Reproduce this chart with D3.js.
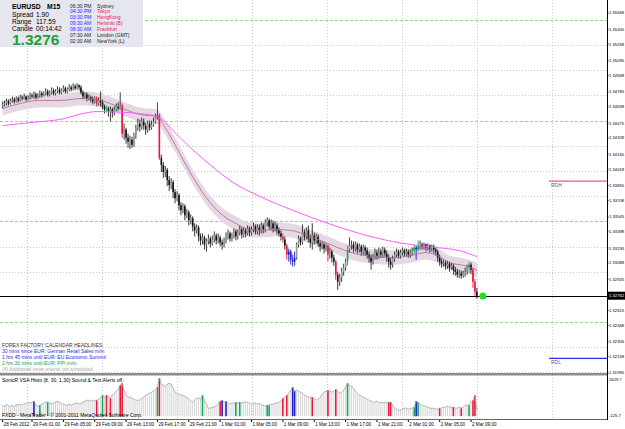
<!DOCTYPE html>
<html>
<head>
<meta charset="utf-8">
<script src="https://cdn.jsdelivr.net/npm/d3@7"></script>
<style>
  body { margin: 0; background: #fff; }
  svg { display: block; font-family: "Liberation Sans", Arial, sans-serif; }
</style>
</head>
<body>
<div class="canvas"></div>
<script>
// ---- data ----
const symbol = "EURUSD", timeframe = "M15";
const spread = "1.90", range = "117.59", candleLeft = "00:14:42", bidText = "1.3276";
const bidPrice = 1.3276;
const rdh = 1.3390, rdl = 1.3214;

const opens = [1.3464,1.3466,1.3467,1.3469,1.3467,1.3470,1.3471,1.3469,1.3472,1.3470,
1.3473,1.3472,1.3474,1.3471,1.3473,1.3475,1.3474,1.3476,1.3473,1.3475,
1.3477,1.3475,1.3477,1.3479,1.3476,1.3478,1.3480,1.3477,1.3479,1.3481,
1.3478,1.3480,1.3482,1.3479,1.3481,1.3483,1.3481,1.3484,1.3482,1.3485,
1.3483,1.3478,1.3474,1.3476,1.3472,1.3473,1.3471,1.3469,1.3472,1.3467,
1.3470,1.3468,1.3464,1.3461,1.3462,1.3459,1.3461,1.3458,1.3461,1.3464,
1.3462,1.3465,1.3437,1.3441,1.3433,1.3429,1.3431,1.3426,1.3435,1.3443,
1.3447,1.3444,1.3449,1.3445,1.3441,1.3447,1.3443,1.3446,1.3449,1.3453,
1.3455,1.3413,1.3406,1.3399,1.3401,1.3391,1.3386,1.3389,1.3379,1.3373,
1.3376,1.3366,1.3361,1.3365,1.3356,1.3359,1.3351,1.3353,1.3345,1.3341,
1.3344,1.3335,1.3331,1.3334,1.3327,1.3330,1.3333,1.3328,1.3332,1.3336,
1.3331,1.3334,1.3329,1.3327,1.3331,1.3335,1.3338,1.3333,1.3336,1.3340,
1.3335,1.3339,1.3342,1.3337,1.3341,1.3338,1.3343,1.3339,1.3342,1.3345,
1.3340,1.3344,1.3341,1.3346,1.3342,1.3349,1.3351,1.3345,1.3348,1.3343,
1.3346,1.3341,1.3338,1.3335,1.3332,1.3326,1.3317,1.3320,1.3312,1.3310,
1.3314,1.3327,1.3333,1.3329,1.3339,1.3335,1.3341,1.3333,1.3329,1.3336,
1.3331,1.3335,1.3328,1.3325,1.3327,1.3323,1.3326,1.3317,1.3320,1.3314,
1.3310,1.3297,1.3290,1.3294,1.3300,1.3304,1.3310,1.3322,1.3326,1.3327,
1.3323,1.3327,1.3322,1.3325,1.3320,1.3324,1.3321,1.3317,1.3314,1.3310,
1.3315,1.3319,1.3316,1.3320,1.3317,1.3322,1.3318,1.3314,1.3310,1.3307,
1.3313,1.3317,1.3320,1.3316,1.3319,1.3321,1.3318,1.3320,1.3317,1.3319,
1.3321,1.3324,1.3322,1.3326,1.3327,1.3325,1.3327,1.3324,1.3326,1.3323,
1.3325,1.3322,1.3320,1.3314,1.3310,1.3308,1.3309,1.3306,1.3308,1.3304,
1.3306,1.3302,1.3300,1.3297,1.3299,1.3296,1.3298,1.3300,1.3304,1.3307,
1.3302,1.3290,1.3280];

const highs = [1.3469,1.3470,1.3472,1.3471,1.3472,1.3474,1.3473,1.3474,1.3474,1.3476,
1.3475,1.3477,1.3475,1.3475,1.3478,1.3477,1.3479,1.3478,1.3477,1.3480,
1.3479,1.3479,1.3482,1.3481,1.3480,1.3483,1.3482,1.3481,1.3484,1.3483,
1.3482,1.3485,1.3484,1.3483,1.3486,1.3485,1.3487,1.3486,1.3487,1.3486,
1.3485,1.3480,1.3478,1.3478,1.3476,1.3475,1.3474,1.3474,1.3474,1.3473,
1.3479,1.3471,1.3466,1.3465,1.3464,1.3464,1.3463,1.3464,1.3467,1.3468,
1.3478,1.3467,1.3447,1.3443,1.3437,1.3435,1.3434,1.3438,1.3446,1.3452,
1.3451,1.3453,1.3452,1.3448,1.3450,1.3450,1.3450,1.3453,1.3457,1.3468,
1.3457,1.3416,1.3409,1.3405,1.3403,1.3395,1.3393,1.3391,1.3382,1.3380,
1.3378,1.3369,1.3368,1.3367,1.3362,1.3361,1.3357,1.3355,1.3348,1.3347,
1.3346,1.3338,1.3338,1.3336,1.3333,1.3337,1.3335,1.3336,1.3340,1.3338,
1.3338,1.3336,1.3332,1.3334,1.3339,1.3342,1.3340,1.3339,1.3343,1.3342,
1.3342,1.3346,1.3344,1.3344,1.3343,1.3346,1.3345,1.3345,1.3349,1.3347,
1.3347,1.3347,1.3349,1.3348,1.3352,1.3354,1.3353,1.3352,1.3351,1.3350,
1.3348,1.3344,1.3341,1.3338,1.3335,1.3328,1.3323,1.3322,1.3317,1.3320,
1.3329,1.3336,1.3335,1.3347,1.3342,1.3344,1.3346,1.3337,1.3348,1.3339,
1.3338,1.3337,1.3331,1.3330,1.3329,1.3328,1.3327,1.3324,1.3322,1.3317,
1.3312,1.3300,1.3298,1.3304,1.3308,1.3313,1.3326,1.3334,1.3331,1.3330,
1.3330,1.3329,1.3328,1.3327,1.3327,1.3326,1.3324,1.3320,1.3317,1.3318,
1.3323,1.3322,1.3324,1.3323,1.3325,1.3324,1.3321,1.3317,1.3314,1.3316,
1.3320,1.3323,1.3322,1.3322,1.3324,1.3323,1.3323,1.3322,1.3322,1.3324,
1.3327,1.3326,1.3331,1.3331,1.3329,1.3329,1.3328,1.3328,1.3327,1.3327,
1.3327,1.3325,1.3322,1.3317,1.3313,1.3312,1.3311,1.3311,1.3310,1.3309,
1.3308,1.3305,1.3303,1.3302,1.3301,1.3301,1.3304,1.3307,1.3310,1.3309,
1.3304,1.3293,1.3284];

const lows = [1.3462,1.3464,1.3465,1.3465,1.3466,1.3468,1.3467,1.3468,1.3468,1.3469,
1.3470,1.3471,1.3469,1.3470,1.3471,1.3472,1.3472,1.3471,1.3472,1.3473,
1.3473,1.3474,1.3475,1.3474,1.3474,1.3476,1.3475,1.3475,1.3477,1.3476,
1.3476,1.3478,1.3477,1.3477,1.3479,1.3479,1.3480,1.3480,1.3481,1.3480,
1.3476,1.3471,1.3472,1.3469,1.3470,1.3468,1.3466,1.3467,1.3464,1.3465,
1.3464,1.3461,1.3457,1.3458,1.3454,1.3449,1.3453,1.3455,1.3459,1.3460,
1.3461,1.3433,1.3431,1.3427,1.3423,1.3422,1.3423,1.3424,1.3432,1.3440,
1.3439,1.3441,1.3441,1.3436,1.3438,1.3440,1.3441,1.3444,1.3447,1.3451,
1.3411,1.3399,1.3393,1.3394,1.3385,1.3380,1.3382,1.3373,1.3368,1.3370,
1.3361,1.3356,1.3358,1.3351,1.3353,1.3346,1.3347,1.3340,1.3335,1.3338,
1.3330,1.3326,1.3327,1.3322,1.3320,1.3327,1.3324,1.3326,1.3329,1.3327,
1.3328,1.3325,1.3322,1.3324,1.3328,1.3332,1.3330,1.3330,1.3333,1.3331,
1.3332,1.3336,1.3333,1.3334,1.3334,1.3336,1.3335,1.3336,1.3339,1.3337,
1.3337,1.3336,1.3338,1.3338,1.3339,1.3345,1.3342,1.3341,1.3339,1.3340,
1.3337,1.3335,1.3331,1.3329,1.3322,1.3312,1.3310,1.3307,1.3305,1.3306,
1.3312,1.3324,1.3326,1.3327,1.3331,1.3332,1.3329,1.3324,1.3322,1.3327,
1.3328,1.3325,1.3320,1.3322,1.3318,1.3320,1.3310,1.3313,1.3309,1.3306,
1.3292,1.3282,1.3286,1.3290,1.3296,1.3301,1.3306,1.3319,1.3322,1.3319,
1.3320,1.3318,1.3319,1.3316,1.3317,1.3316,1.3313,1.3309,1.3302,1.3307,
1.3312,1.3312,1.3313,1.3314,1.3314,1.3315,1.3310,1.3304,1.3302,1.3304,
1.3310,1.3314,1.3313,1.3313,1.3316,1.3315,1.3315,1.3314,1.3314,1.3316,
1.3318,1.3312,1.3320,1.3322,1.3322,1.3322,1.3320,1.3321,1.3319,1.3320,
1.3318,1.3316,1.3310,1.3306,1.3304,1.3305,1.3302,1.3303,1.3300,1.3302,
1.3297,1.3296,1.3294,1.3294,1.3293,1.3294,1.3295,1.3297,1.3299,1.3298,
1.3284,1.3276,1.3273];

const closes = [1.3466,1.3467,1.3469,1.3467,1.3470,1.3471,1.3469,1.3472,1.3470,1.3473,
1.3472,1.3474,1.3471,1.3473,1.3475,1.3474,1.3476,1.3473,1.3475,1.3477,
1.3475,1.3477,1.3479,1.3476,1.3478,1.3480,1.3477,1.3479,1.3481,1.3478,
1.3480,1.3482,1.3479,1.3481,1.3483,1.3481,1.3484,1.3482,1.3485,1.3483,
1.3478,1.3474,1.3476,1.3472,1.3473,1.3471,1.3469,1.3472,1.3467,1.3470,
1.3468,1.3464,1.3461,1.3462,1.3459,1.3461,1.3458,1.3461,1.3464,1.3462,
1.3465,1.3437,1.3441,1.3433,1.3429,1.3431,1.3426,1.3435,1.3443,1.3447,
1.3444,1.3449,1.3445,1.3441,1.3447,1.3443,1.3446,1.3449,1.3453,1.3455,
1.3413,1.3406,1.3399,1.3401,1.3391,1.3386,1.3389,1.3379,1.3373,1.3376,
1.3366,1.3361,1.3365,1.3356,1.3359,1.3351,1.3353,1.3345,1.3341,1.3344,
1.3335,1.3331,1.3334,1.3327,1.3330,1.3333,1.3328,1.3332,1.3336,1.3331,
1.3334,1.3329,1.3327,1.3331,1.3335,1.3338,1.3333,1.3336,1.3340,1.3335,
1.3339,1.3342,1.3337,1.3341,1.3338,1.3343,1.3339,1.3342,1.3345,1.3340,
1.3344,1.3341,1.3346,1.3342,1.3349,1.3351,1.3345,1.3348,1.3343,1.3346,
1.3341,1.3338,1.3335,1.3332,1.3326,1.3317,1.3320,1.3312,1.3310,1.3314,
1.3327,1.3333,1.3329,1.3339,1.3335,1.3341,1.3333,1.3329,1.3336,1.3331,
1.3335,1.3328,1.3325,1.3327,1.3323,1.3326,1.3317,1.3320,1.3314,1.3310,
1.3297,1.3290,1.3294,1.3300,1.3304,1.3310,1.3322,1.3326,1.3327,1.3323,
1.3327,1.3322,1.3325,1.3320,1.3324,1.3321,1.3317,1.3314,1.3310,1.3315,
1.3319,1.3316,1.3320,1.3317,1.3322,1.3318,1.3314,1.3310,1.3307,1.3313,
1.3317,1.3320,1.3316,1.3319,1.3321,1.3318,1.3320,1.3317,1.3319,1.3321,
1.3324,1.3322,1.3326,1.3327,1.3325,1.3327,1.3324,1.3326,1.3323,1.3325,
1.3322,1.3320,1.3314,1.3310,1.3308,1.3309,1.3306,1.3308,1.3304,1.3306,
1.3302,1.3300,1.3297,1.3299,1.3296,1.3298,1.3300,1.3304,1.3307,1.3302,
1.3290,1.3280,1.3276];

const volumes = [758,620,827,689,689,758,620,827,758,827,
758,896,827,965,896,965,1034,758,689,758,
827,896,965,965,896,827,896,965,1034,965,
896,827,758,758,827,758,827,896,896,827,
896,965,1034,1102,1102,1034,1102,1034,1102,1171,
1240,1447,1309,1447,1378,1240,1447,1585,1723,1860,
2136,2274,1791,1447,1309,1309,1240,1171,1102,1102,
1102,1240,1309,1447,1516,1585,1654,1723,1860,1998,
2630,2205,2136,2067,2205,2274,2205,1929,1654,1585,
1516,1447,1447,1378,1309,1171,1034,965,1102,1240,
1240,1171,1447,1102,827,551,551,620,620,689,
827,1034,1102,965,1034,896,827,896,896,965,
896,965,896,965,965,965,896,827,896,896,
827,896,758,758,689,758,758,827,827,896,
896,965,1034,1240,1309,1447,1585,1791,1998,1723,
1791,1723,1654,1585,1447,1378,1309,1309,1309,1240,
1102,1171,1309,1516,1654,1723,1791,1723,1654,1723,
1860,1723,1585,1654,1791,1998,2274,2136,2067,1929,
1723,1585,1447,1378,1309,1240,1171,1102,1034,965,
965,1034,896,965,896,965,896,965,965,758,
551,482,413,413,482,551,551,482,551,551,
620,1034,965,827,758,689,689,620,551,551,
551,482,482,551,551,620,620,689,620,620,
620,551,551,620,551,620,758,758,758,965,
1102,1447,413];

// VSA signal bars (bar index)
const candleRed = [48, 61, 80, 143, 145, 166, 170, 240, 241];
const candleBlue = [79, 146, 147, 148, 149, 211];
const candleGreen = [53, 176, 210, 212, 238];
const volRed = [48, 53, 55, 60, 61, 80, 111, 143, 145, 158, 166, 170, 197, 198, 223, 230, 234, 240, 241];
const volBlue = [16, 112, 114, 148, 149, 211];
const volGreen = [19, 23, 51, 79, 102, 119, 121, 135, 136, 176, 210, 212, 238];

// moving averages [bar, price]
const maFast = [[0,1.3462],[9,1.3467],[19,1.3470],[29,1.3470],[41,1.3472],[50,1.3470],[60,1.3463],
[70,1.3456],[79,1.3454],[83,1.3443],[88,1.3426],[93,1.3408],[98,1.3391],[103,1.3376],[108,1.3364],
[113,1.3355],[119,1.3348],[124,1.3343],[131,1.3341],[139,1.3342],[147,1.3341],[157,1.3335],
[166,1.3328],[175,1.3321],[182,1.3317],[199,1.3314],[208,1.3316],[216,1.3319],[223,1.3315],
[228,1.3309],[236,1.3306],[242,1.3302]];
const bandHalf = 0.0007;
const maSlow = [[0,1.3445],[9,1.3447],[19,1.3449],[29,1.3451],[41,1.3457],[48,1.3459],[64,1.3458],
[70,1.3457],[79,1.3454],[80,1.3453],[88,1.3438],[97,1.3421],[106,1.3406],[118,1.3388],[131,1.3375],
[148,1.3361],[166,1.3348],[182,1.3338],[199,1.3330],[216,1.3325],[233,1.3321],[242,1.3315]];

const greenLevels = [1.355, 1.345, 1.335, 1.325];
const gridLevels = [1.3525, 1.35, 1.3475, 1.3425, 1.34, 1.3375, 1.3325, 1.33, 1.3225, 1.32];

const priceLabels = ["1.35568","1.35405","1.35258","1.35095","1.34948","1.34785","1.34638","1.34475",
"1.34328","1.34165","1.34018","1.33855","1.33708","1.33545","1.33398","1.33235","1.33088","1.32925",
"1.32615","1.32468","1.32305","1.32158","1.31995"];
const bidLabel = "1.32762";

const timeLabels = ["28 Feb 2012","29 Feb 01:00","29 Feb 05:00","29 Feb 09:00","29 Feb 13:00","29 Feb 17:00",
"29 Feb 21:00","1 Mar 01:00","1 Mar 05:00","1 Mar 09:00","1 Mar 13:00","1 Mar 17:00","1 Mar 21:00",
"2 Mar 01:00","2 Mar 05:00","2 Mar 09:00"];
const timeLabelBars = [0,15,31,47,63,79,95,111,127,143,159,175,191,207,223,239];

const sessionTimes = ["06:30 PM","04:30 PM","03:30 PM","09:30 AM","08:30 AM","07:30 AM","02:30 AM"];
const sessionCities = ["Sydney","Tokyo","HongKong","Helsinki (B)","Frankfurt","London (GMT)","NewYork (L)"];
const sessionOpen = [false, true, true, true, true, false, false];

const newsLines = [
  ["FOREX FACTORY CALENDAR HEADLINES:", "head"],
  ["30 mins since EUR: German Retail Sales m/m", "past"],
  ["1 hrs 45 mins until EUR: EU Economic Summit", "past"],
  ["2 hrs 30 mins until EUR: PPI m/m", "next"],
  ["(4) Additional news events not scheduled", "note"]
];
const volMax = 2629.7, volMin = -125.7;

// ---- layout ----
const w = 625, h = 429;
const axisX = 607;
const main = { top: 13, bottom: 373 };
const sub = { top: 378, bottom: 418 };
const RED = "#e8173c", BLUE = "#1c1cc8", GREEN = "#12a85a";

const svg = d3.select(".canvas").append("svg").attr("width", w).attr("height", h);

const x = d3.scaleLinear().domain([0, 242]).range([2.6, 476.9]);
const y = d3.scaleLinear().domain([1.31995, 1.35568]).range([main.bottom, main.top]);
const yv = d3.scaleLinear().domain([volMin, volMax]).range([sub.bottom, sub.top]);

// grid lines (MT4 style dotted)
const vgrid = d3.range(27, axisX, 75);
svg.append("g").selectAll("line").data(vgrid).enter().append("line")
  .attr("x1", d => d + 0.5).attr("x2", d => d + 0.5).attr("y1", 0).attr("y2", 419)
  .attr("stroke", "#c8c8c8").attr("stroke-dasharray", "1,2");
svg.append("g").selectAll("line").data(gridLevels).enter().append("line")
  .attr("x1", 0).attr("x2", axisX).attr("y1", d => Math.round(y(d)) + 0.5).attr("y2", d => Math.round(y(d)) + 0.5)
  .attr("stroke", "#c8c8c8").attr("stroke-dasharray", "1,2");
svg.append("g").selectAll("line").data(greenLevels).enter().append("line")
  .attr("x1", 0).attr("x2", axisX).attr("y1", d => Math.round(y(d)) + 0.5).attr("y2", d => Math.round(y(d)) + 0.5)
  .attr("stroke", "#8ddc8d").attr("stroke-dasharray", "3,2");

// envelope band around the fast MA
const band = d3.area().curve(d3.curveMonotoneX)
  .x(d => x(d[0])).y0(d => y(d[1] - bandHalf)).y1(d => y(d[1] + bandHalf));
svg.append("path").datum(maFast).attr("d", band).attr("fill", "#e6d8e3");

// candles
const bars = d3.range(closes.length);
const candleColor = i => candleRed.includes(i) ? RED : candleBlue.includes(i) ? BLUE : candleGreen.includes(i) ? GREEN : null;
const cg = svg.append("g");
cg.selectAll("line").data(bars).enter().append("line")
  .attr("x1", i => x(i)).attr("x2", i => x(i))
  .attr("y1", i => y(highs[i])).attr("y2", i => y(lows[i]))
  .attr("stroke", i => candleColor(i) || "#222").attr("stroke-width", 0.9);
cg.selectAll("rect").data(bars).enter().append("rect")
  .attr("x", i => x(i) - 0.8).attr("width", 1.6)
  .attr("y", i => y(Math.max(opens[i], closes[i])))
  .attr("height", i => Math.max(0.6, Math.abs(y(opens[i]) - y(closes[i]))))
  .attr("fill", i => candleColor(i) || (closes[i] >= opens[i] ? "#9a9a9a" : "#111"));

// moving averages
const line = d3.line().curve(d3.curveMonotoneX).x(d => x(d[0])).y(d => y(d[1]));
svg.append("path").datum(maFast).attr("d", line).attr("fill", "none").attr("stroke", "#a7679a").attr("stroke-width", 0.8);
svg.append("path").datum(maSlow).attr("d", line).attr("fill", "none").attr("stroke", "#ff5cff").attr("stroke-width", 1);

// bid line and marker
svg.append("line").attr("x1", 0).attr("x2", axisX).attr("y1", Math.round(y(bidPrice)) + 0.5).attr("y2", Math.round(y(bidPrice)) + 0.5)
  .attr("stroke", "#000");
svg.append("circle").attr("cx", x(closes.length - 1) + 6).attr("cy", y(bidPrice)).attr("r", 3.5).attr("fill", "#22dd22");

// yesterday high / low
[[rdh, "RDH", "#e0607e"], [rdl, "RDL", "#2f2ff0"]].forEach(([p, t, c]) => {
  svg.append("line").attr("x1", 549).attr("x2", axisX).attr("y1", y(p)).attr("y2", y(p)).attr("stroke", c).attr("stroke-width", 1.2);
  svg.append("text").attr("x", 551).attr("y", y(p) + 6).attr("font-size", 5).attr("fill", "#5454a8").text(t);
});

// info panel
const info = svg.append("g");
info.append("rect").attr("x", 0).attr("y", 0).attr("width", 143).attr("height", 47).attr("fill", "#e6e6ee");
info.append("text").attr("x", 12).attr("y", 8.5).attr("font-size", 6.8).attr("font-weight", "bold").text(symbol);
info.append("text").attr("x", 47).attr("y", 8.5).attr("font-size", 6.8).attr("font-weight", "bold").text(timeframe);
[["Spread", spread], ["Range", range], ["Candle", candleLeft]].forEach(([k, v], j) => {
  info.append("text").attr("x", 12).attr("y", 17 + j * 7).attr("font-size", 6.6).text(k);
  info.append("text").attr("x", 36).attr("y", 17 + j * 7).attr("font-size", 6.6).text(v);
});
info.append("text").attr("x", 12).attr("y", 45).attr("font-size", 15.5).attr("font-weight", "bold").attr("fill", "#22a035").text(bidText);
sessionTimes.forEach((t, j) => {
  info.append("text").attr("x", 70).attr("y", 7.5 + j * 5.9).attr("font-size", 5).attr("fill", sessionOpen[j] ? "#2a2aff" : "#222").text(t);
  info.append("text").attr("x", 97).attr("y", 7.5 + j * 5.9).attr("font-size", 5).attr("fill", sessionOpen[j] ? "#e02050" : "#222").text(sessionCities[j]);
});

// news headlines
const newsColor = { head: "#333", past: "#2a2ad8", next: "#1e9e3a", note: "#aaa" };
svg.append("g").selectAll("text").data(newsLines).enter().append("text")
  .attr("x", 2).attr("y", (d, j) => 347 + j * 6).attr("font-size", 5).attr("fill", d => newsColor[d[1]]).text(d => d[0]);

// window separator
svg.append("rect").attr("x", 0).attr("y", 373).attr("width", axisX).attr("height", 2.5).attr("fill", "#8c8c8c");

// volume histogram
const volColor = i => volRed.includes(i) ? RED : volBlue.includes(i) ? BLUE : volGreen.includes(i) ? GREEN : null;
svg.append("g").selectAll("line").data(bars).enter().append("line")
  .attr("x1", i => x(i)).attr("x2", i => x(i)).attr("y1", yv(0)).attr("y2", i => yv(volumes[i]))
  .attr("stroke", i => volColor(i) || "#d6d6d6").attr("stroke-width", i => volColor(i) ? 1.6 : 1);
svg.append("path").datum(bars).attr("fill", "none").attr("stroke", "#9a9a9a").attr("stroke-width", 0.7)
  .attr("d", d3.line().x(i => x(i)).y(i => yv(volumes[i])));
svg.append("text").attr("x", 2).attr("y", 382).attr("font-size", 5).text("SonicR VSA Histo (8, 30, 1.30)   Sound & Text Alerts off.");
svg.append("text").attr("x", 2).attr("y", 417).attr("font-size", 5).text("FXDD - MetaTrader - © 2001-2011 MetaQuotes Software Corp.");

// axes frame
svg.append("line").attr("x1", axisX + 0.5).attr("x2", axisX + 0.5).attr("y1", 0).attr("y2", 420).attr("stroke", "#000");
svg.append("line").attr("x1", 0).attr("x2", axisX).attr("y1", 419.5).attr("y2", 419.5).attr("stroke", "#666");

// price scale
const pl = svg.append("g").attr("font-size", 4.2);
priceLabels.forEach(s => {
  const yy = y(+s);
  pl.append("line").attr("x1", axisX).attr("x2", axisX + 1.5).attr("y1", yy).attr("y2", yy).attr("stroke", "#000");
  pl.append("text").attr("x", axisX + 2).attr("y", yy).attr("dy", "0.35em").text(s);
});
pl.append("rect").attr("x", axisX + 1).attr("y", y(+bidLabel) - 4).attr("width", w - axisX).attr("height", 8).attr("fill", "#000");
pl.append("text").attr("x", axisX + 2).attr("y", y(+bidLabel)).attr("dy", "0.35em").attr("fill", "#fff").text(bidLabel);
pl.append("text").attr("x", axisX + 2).attr("y", yv(volMax) + 2).attr("dy", "0.35em").text(volMax.toFixed(1));
pl.append("text").attr("x", axisX + 2).attr("y", yv(volMin) - 2).attr("dy", "0.35em").text(volMin.toFixed(1));

// time scale
const tl = svg.append("g").attr("font-size", 4.6);
timeLabels.forEach((s, j) => {
  const xx = x(timeLabelBars[j]);
  tl.append("line").attr("x1", xx).attr("x2", xx).attr("y1", 420).attr("y2", 422).attr("stroke", "#000");
  tl.append("text").attr("x", xx + 1).attr("y", 426).text(s);
});
</script>
</body>
</html>
